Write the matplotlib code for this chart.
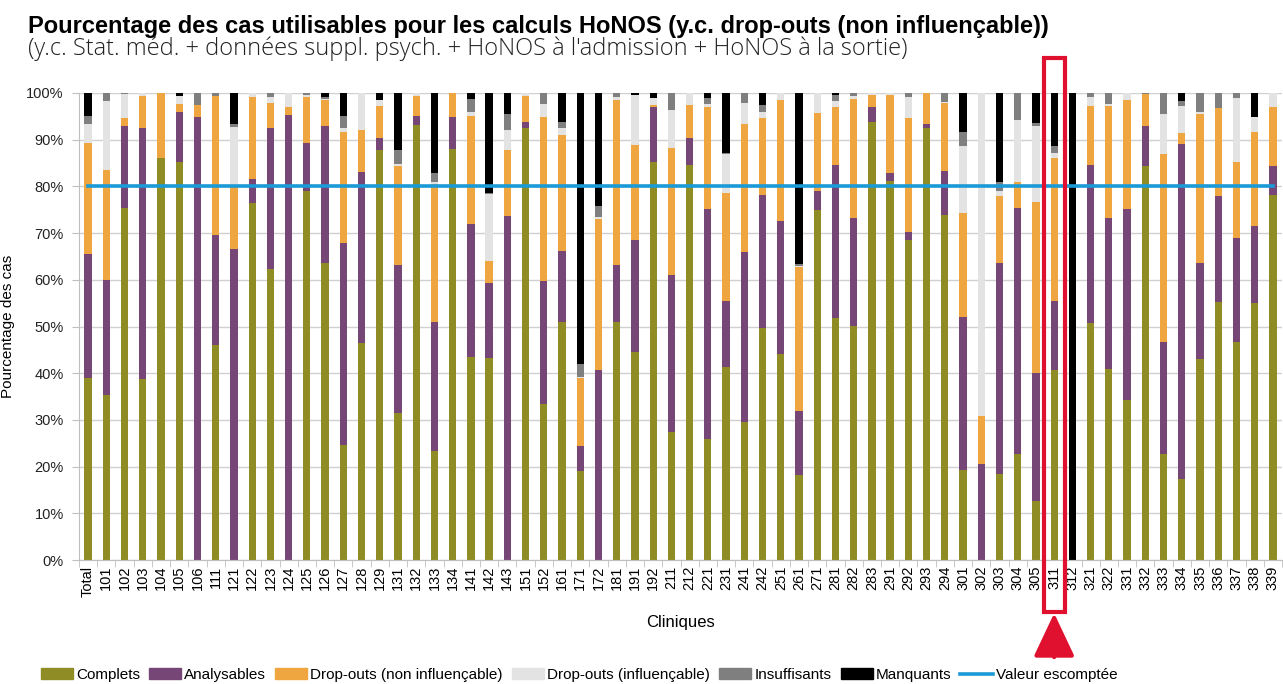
import matplotlib.pyplot as plt
import numpy as np
from matplotlib.patches import Rectangle
from matplotlib.lines import Line2D

# Cliniques (x categories)
categories = ['Total', '101', '102', '103', '104', '105', '106', '111', '121', '122',
              '123', '124', '125', '126', '127', '128', '129', '131', '132', '133',
              '134', '141', '142', '143', '151', '152', '161', '171', '172', '181',
              '191', '192', '211', '212', '221', '231', '241', '242', '251', '261',
              '271', '281', '282', '283', '291', '292', '293', '294', '301', '302',
              '303', '304', '305', '311', '312', '321', '322', '331', '332', '333',
              '334', '335', '336', '337', '338', '339']

# percentages per category (stacked from bottom to top)
complets = [38.9, 35.3, 75.4, 38.7, 86.1, 85.2, 0, 46.0, 0, 76.4,
            62.3, 0, 79.1, 63.6, 24.6, 46.4, 87.8, 31.4, 93.1, 23.4,
            88.1, 43.5, 43.3, 0, 92.4, 33.3, 50.9, 19.0, 0, 50.9,
            44.6, 85.2, 27.4, 84.6, 25.9, 41.3, 29.5, 49.6, 44.1, 18.3,
            74.9, 51.9, 50.1, 93.8, 81.1, 68.5, 92.4, 73.9, 19.2, 0,
            18.5, 22.6, 12.6, 40.6, 0, 50.7, 40.9, 34.2, 84.4, 22.6,
            17.3, 43.0, 55.2, 46.6, 55.0, 78.1]
analysables = [26.6, 24.7, 17.6, 53.7, 0, 10.8, 94.9, 23.6, 66.6, 5.1,
               30.3, 95.3, 10.1, 29.3, 43.3, 36.7, 2.6, 31.7, 2.0, 27.6,
               6.8, 28.5, 16.1, 73.6, 1.4, 26.5, 15.2, 5.5, 40.7, 12.2,
               24.0, 11.9, 33.7, 5.8, 49.2, 14.2, 36.5, 28.6, 28.5, 13.7,
               4.2, 32.7, 23.2, 3.2, 1.8, 1.8, 1.0, 9.4, 32.9, 20.5,
               45.2, 52.8, 27.5, 14.9, 0, 33.9, 32.4, 41.0, 8.5, 24.1,
               71.8, 20.5, 22.8, 22.4, 16.6, 6.2]
dropouts_non = [23.9, 23.6, 1.7, 7.0, 13.9, 1.6, 2.5, 29.8, 13.8, 17.6,
                5.2, 1.8, 10.0, 5.6, 23.7, 9.0, 6.8, 21.3, 4.3, 29.6,
                5.1, 23.1, 4.7, 14.3, 5.6, 35.1, 24.9, 14.5, 32.3, 35.4,
                20.3, 0.3, 27.1, 7.1, 21.8, 23.1, 27.4, 16.5, 26.0, 30.7,
                16.6, 12.3, 25.4, 2.6, 16.7, 24.4, 6.6, 14.5, 22.3, 10.3,
                14.3, 5.6, 36.6, 30.6, 0, 12.6, 24.0, 23.2, 6.8, 40.3,
                2.3, 32.1, 18.7, 16.2, 20.0, 12.6]
dropouts_inf = [3.9, 14.7, 5.0, 0.6, 0, 1.8, 0, 0, 12.4, 0.9,
                1.4, 2.9, 0.4, 0.3, 0.8, 7.9, 1.4, 0.3, 0.6, 0.4,
                0, 0.8, 14.2, 4.2, 0.6, 2.7, 1.4, 0.2, 0.4, 0.7,
                10.6, 1.6, 8.2, 2.5, 0.7, 8.3, 4.5, 1.2, 1.4, 0.2,
                4.3, 1.4, 0.7, 0.4, 0.4, 4.4, 0, 0.3, 14.3, 69.2,
                1.1, 13.3, 16.3, 1.1, 0, 1.9, 0.3, 1.6, 0, 8.6,
                5.9, 0.3, 0, 13.8, 3.3, 3.1]
insuffisants = [1.8, 1.7, 0.3, 0, 0, 0, 2.6, 0.6, 0.5, 0,
                0.8, 0, 0.4, 0.3, 2.7, 0, 0, 3.0, 0, 1.9,
                0, 2.8, 0.3, 3.5, 0, 2.4, 1.3, 2.7, 2.5, 0.8,
                0, 0, 3.6, 0, 1.4, 0.2, 2.1, 1.5, 0, 0.4,
                0, 1.3, 0.6, 0, 0, 0.9, 0, 1.9, 2.9, 0,
                1.8, 5.7, 0.5, 1.4, 0, 0.9, 2.4, 0, 0.3, 4.4,
                1.0, 4.1, 3.3, 1.0, 0, 0]
manquants = [4.9, 0, 0, 0, 0, 0.6, 0, 0, 6.7, 0,
             0, 0, 0, 0.9, 4.9, 0, 1.4, 12.3, 0, 17.1,
             0, 1.3, 21.4, 4.4, 0, 0, 6.3, 58.1, 24.1, 0,
             0.5, 1.0, 0, 0, 1.0, 12.9, 0, 2.6, 0, 36.7,
             0, 0.4, 0, 0, 0, 0, 0, 0, 8.4, 0,
             19.1, 0, 6.5, 11.4, 100, 0, 0, 0, 0, 0,
             1.7, 0, 0, 0, 5.1, 0]
valeur_escomptee = 80
highlight = '311'

series = [
    ('Complets', complets, '#8f8c25'),
    ('Analysables', analysables, '#764676'),
    ('Drop-outs (non influençable)', dropouts_non, '#efa540'),
    ('Drop-outs (influençable)', dropouts_inf, '#e3e3e3'),
    ('Insuffisants', insuffisants, '#7f7f7f'),
    ('Manquants', manquants, '#000000'),
]

plt.rcParams['font.family'] = ['Liberation Sans', 'DejaVu Sans']
narrow = ['Liberation Sans Narrow', 'Liberation Sans']

W, H = 1283, 684
fig = plt.figure(figsize=(W / 100, H / 100), dpi=100)
ax = fig.add_axes([79 / W, 1 - 560 / H, (1282 - 79) / W, (560 - 93) / H])

x = np.arange(len(categories))
bottom = np.zeros(len(categories))
handles = []
for name, vals, col in series:
    vals = np.array(vals, dtype=float)
    ax.bar(x, vals, 0.4, bottom=bottom, color=col, zorder=2)
    bottom += vals
    handles.append(Rectangle((0, 0), 1, 1, color=col, label=name))

ax.plot([x[0], x[-1]], [valeur_escomptee] * 2, color='#1a9ad6', lw=2.6, zorder=3)
handles.append(Line2D([], [], color='#1a9ad6', lw=2.6, label='Valeur escomptée'))

ax.set_xlim(-0.5, len(categories) - 0.5)
ax.set_ylim(0, 100)
ax.set_yticks(np.arange(0, 101, 10))
ax.set_yticklabels([f'{v}%' for v in range(0, 101, 10)], fontsize=10.5, color='#222222')
ax.grid(axis='y', color='#d0d0d0', lw=1, zorder=0)
ax.set_xticks(x)
ax.set_xticklabels(categories, rotation=90, fontsize=10.5, family=narrow)
ax.set_xticks(np.arange(-0.5, len(categories)), minor=True)
ax.tick_params(axis='x', which='major', length=0, pad=4)
ax.tick_params(axis='x', which='minor', length=5, color='#bfbfbf')
ax.tick_params(axis='y', length=5, color='#bfbfbf', pad=6)
for s in ['top', 'right']:
    ax.spines[s].set_visible(False)
for s in ['left', 'bottom']:
    ax.spines[s].set_color('#bfbfbf')

ax.set_ylabel('Pourcentage des cas', fontsize=11, labelpad=8)
ax.set_xlabel('Cliniques', fontsize=12, labelpad=13, family=narrow)

fig.text(28 / W, 1 - 33 / H, 'Pourcentage des cas utilisables pour les calculs HoNOS (y.c. drop-outs (non influençable))',
         fontsize=17, fontweight='bold', va='baseline')
fig.text(28 / W, 1 - 55 / H, "(y.c. Stat. méd. + données suppl. psych. + HoNOS à l'admission + HoNOS à la sortie)",
         fontsize=17, va='baseline', color='#222222',
         family=['Open Sans', 'Liberation Sans'], fontweight='light')

# red highlight around one clinic
hi = categories.index(highlight)
ax.add_patch(Rectangle((hi - 0.57, -0.111 * 100), 1.14, (1.075 + 0.111) * 100,
                       fill=False, ec='#e0102f', lw=3, clip_on=False, zorder=5))
ax.annotate('', xy=(hi, -11.4), xytext=(hi, -20.8),
            arrowprops=dict(arrowstyle='-|>,head_width=0.85,head_length=1.8',
                            mutation_scale=15, color='#e0102f', lw=3,
                            shrinkA=0, shrinkB=0),
            annotation_clip=False)

fig.legend(handles=handles, loc='center left', bbox_to_anchor=(27 / W, 1 - 675 / H),
           ncol=7, frameon=False, handlelength=2.1, handleheight=0.7,
           handletextpad=0.2, columnspacing=0.6,
           prop={'family': narrow, 'size': 11})

fig.savefig('out.png', dpi=100)
